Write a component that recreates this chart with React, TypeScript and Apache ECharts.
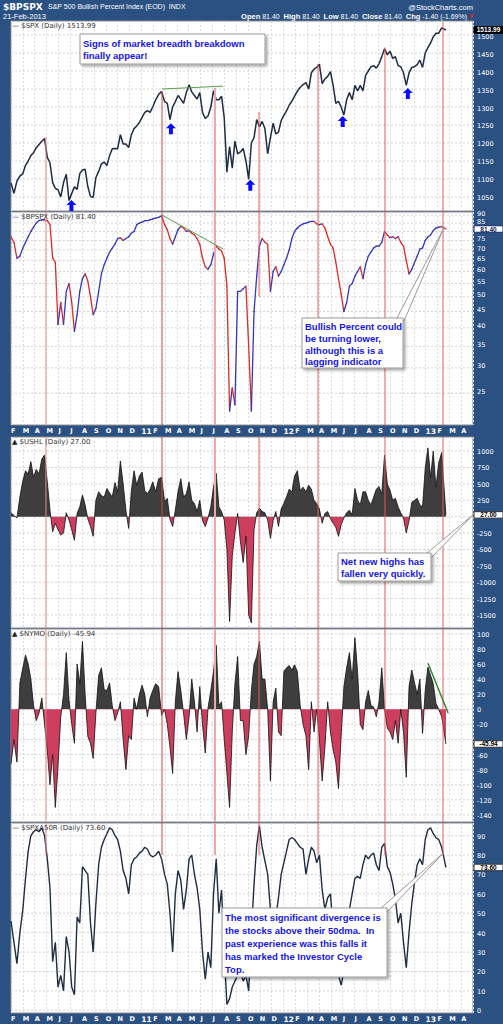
import React, { useEffect, useRef } from "react";
import * as echarts from "echarts";

// ---------- axis / categories ----------
const LAST_DAY = 1116; // days from 1-Feb-2010 to 21-Feb-2013
const monthLabels = [
  "F", "M", "A", "M", "J", "J", "A", "S", "O", "N", "D",
  "11", "F", "M", "A", "M", "J", "J", "A", "S", "O", "N", "D",
  "12", "F", "M", "A", "M", "J", "J", "A", "S", "O", "N", "D",
  "13", "F", "M", "A",
];

// ---------- series values (weekly samples) ----------
const spx = [
  1089, 1060, 1094, 1108, 1115, 1138, 1150, 1165, 1173, 1187,
  1196, 1205, 1212, 1160, 1145, 1090, 1074, 1070, 1050, 1090,
  1113, 1040, 1060, 1078, 1071, 1115, 1125, 1127, 1079, 1051,
  1049, 1104, 1121, 1142, 1147, 1137, 1165, 1184, 1185, 1184,
  1223, 1197, 1197, 1187, 1223, 1240, 1247, 1257, 1271, 1285,
  1290, 1285, 1300, 1320, 1335, 1343, 1315, 1310, 1265, 1300,
  1315, 1332, 1322, 1310, 1340, 1362, 1342, 1332, 1322, 1340,
  1285, 1268, 1275, 1300, 1345, 1320, 1320, 1330, 1270, 1119,
  1190, 1130, 1205, 1170, 1175, 1185, 1150, 1099, 1200, 1215,
  1265, 1245, 1260, 1240, 1170, 1215, 1255, 1225, 1230, 1262,
  1277, 1289, 1305, 1316, 1330, 1344, 1355, 1362, 1368, 1350,
  1395, 1405, 1410, 1419, 1365, 1378, 1385, 1398, 1360, 1310,
  1316, 1300, 1278, 1320, 1340, 1320, 1360, 1345, 1360, 1345,
  1388, 1400, 1412, 1415, 1408, 1420, 1440, 1462, 1445, 1455,
  1435, 1440, 1415, 1412, 1395, 1360, 1395, 1410, 1412, 1418,
  1430, 1410, 1450, 1465, 1478, 1495, 1505, 1505, 1520, 1514,
];

const bpspx = [
  77, 74, 66, 67, 71, 74, 77, 80, 82.5, 85,
  86.5, 87, 87, 86.5, 84, 66, 64, 41, 48, 41,
  52, 55, 48, 39, 44, 52, 57, 59, 56, 50,
  44, 46, 52, 59, 63, 66, 69, 71, 73, 76,
  76.5, 75, 76, 77, 79, 80, 84, 85, 85.5, 86.5,
  86.5, 87, 87.5, 88, 88.5, 89.5, 84, 81, 76, 73,
  77, 81, 83, 82, 80, 80.5, 79, 78, 76, 73,
  66, 62, 61, 63, 68, 72, 70.5, 69.5, 66, 54,
  22, 26, 23, 52, 52, 53, 54, 35, 22, 45,
  58, 72, 76, 74, 73, 52, 60, 62, 58, 60,
  63, 66, 70, 76, 80, 82, 83.5, 84.5, 85, 85.5,
  86, 86, 84.5, 84, 84.5, 82, 77, 73, 71, 64,
  57, 51, 45, 48, 54, 55, 58, 60, 62, 57,
  63, 67, 69, 71, 72, 72, 74, 80, 78, 76.5,
  77, 76, 77, 74, 72, 65, 59, 61, 64, 67,
  70.5, 71, 75, 77, 78, 80.5, 82, 82.5, 82.8, 81.4,
];

const ushl = [
  60, 20, -20, 300, 550, 700, 650, 840, 600, 720,
  650, 880, 940, 530, 100, -230, -100, -200, -280, -250,
  60, -50, -200, -360, 50, 150, 330, 180, -30, -150,
  -300, 250, 380, 320, 300, 430, 360, 300, 520, 380,
  850, 500, 100, -180, 400, 700, 480, 620, 680, 400,
  350, 420, 530, 380, 580, 600, 230, 280, -40, -150,
  100, 380, 580, 300, 350, 530, 250, 200, 80, 250,
  -60, -150, -20, 150, 450, 660, 150, 80, -50, -500,
  -1600, -600, -250, 50, -380, -700, -300, -1500, -1620, -200,
  60, 130, 80, 60, -50, -330, -60, 80, -150, 120,
  200, 300, 420, 380, 620, 700, 400, 450, 380, 480,
  420, 250, 200, 120, -100, 50, 80, -30, -100, -160,
  -300, -120, -20, 60, 100, 30, 430, 250, 180, 380,
  380, 250, 180, 300, 420, 460, 350, 940, 500, 400,
  250, 280, 150, 60, -20, -250, -60, 220, 250, 280,
  180, 150, 740, 1050, 600, 1000, 450, 820, 980, 27,
];

const nymo = [
  -72, -40, -70, 35, 55, 72, 60, 40, 5, -15,
  -5, 15, -20, -55, -100, -60, -130, -75, -10, 20,
  75, 12, -20, -45, 60, 34, 90, 20, -36, -45,
  -65, -5, 45, 55, 26, 25, 35, 5, -15, -5,
  10, -40, -80, -35, -40, 15, 0, 20, 32, 20,
  -10, 15, 25, 34, 30, -8, 0, -20, -50, -85,
  10, 50, 25, -5, -40, -10, 40, 10, -30, 30,
  -20, -58, 2, 25, 50, 85, 5, 10, -40, -85,
  -130, -30, 34, 70, -15, -15, -60, -35, 25, 60,
  70, 90, 40, 40, 0, -95, 10, 28, -30, -35,
  50, 55, 58, 52, 59, 50, 5, -20, -35, -80,
  10, -30, 0, -40, -95, -50, 10, -30, -54, -70,
  -105, -35, 30, 55, 75, 40, 95, 50, -20, -27,
  10, 25, 5, 3, -10, 10, 55, 0, -25, -30,
  -40, -15, -45, 0, -30, -90, 30, 52, 35, 20,
  40, -32, 25, 56, 45, 34, 8, 0, -10, -45.94,
];

const spxa50r = [
  46, 35, 24, 40, 52, 68, 82, 90, 92, 93,
  92, 94, 90, 78, 63, 25, 35, 12, 18, 10,
  38, 30, 12, 8, 48, 45, 74, 72, 70, 45,
  30, 55, 75, 84, 88, 91, 94, 93, 90, 88,
  82, 72, 68, 60, 75, 78, 79, 81, 82, 84,
  83, 80, 79, 80, 82, 78, 70, 65, 50, 30,
  60, 72, 67, 52, 62, 78, 80, 70, 63, 52,
  30, 16, 30, 22, 60, 78, 50, 62, 30, 3,
  6, 12, 15, 18, 20, 15, 18, 10, 40, 65,
  85, 95, 84, 77, 70, 52, 45, 48, 58, 70,
  76, 82, 88, 89, 88, 86, 84, 83, 70, 78,
  84, 82, 76, 80, 62, 52, 58, 60, 42, 34,
  18, 13, 20, 40, 52, 60, 68, 69, 68, 75,
  80, 78, 80, 81, 75, 72, 84, 86, 74, 71,
  65, 57, 45, 50, 35, 22, 40, 55, 66, 75,
  78, 75, 88, 93, 94, 91, 89, 88, 84, 73.6,
];

// ---------- tick labels ----------
const spxTicks = [1050, 1100, 1150, 1200, 1250, 1300, 1350, 1400, 1450, 1500];
const bpTicks = [25, 30, 35, 40, 45, 50, 55, 60, 65, 70, 75, 80, 85, 90];
const ushlTicks = [1000, 750, 500, 250, 0, -250, -500, -750, -1000, -1250, -1500];
const nymoTicks = [100, 80, 60, 40, 20, 0, -20, -40, -60, -80, -100, -120, -140];
const a50Ticks = [90, 80, 70, 60, 50, 40, 30, 20, 10, 0];
const hiddenTicks = [[], [80], [0], [-40], []];

// ---------- annotations (month index, value) ----------
const redLineX = [2.95, 12.75, 17.22, 20.94, 25.92, 31.57, 36.47];
const redLineSpxTop = [1217, 1343, 1353, 1286, 1419, 1466, 1536];
const redLineColor = ["#e78a8a", "#c44848", "#f0a6ae", "#e05c5c", "#e05c5c", "#e05c5c", "#e05c5c"];
const redLineWidth = [1, 1, 2, 1, 1, 1, 1];
const arrowX = [5.1, 13.5, 20.2, 28.0, 33.5];
const arrowY = [1025, 1238, 1081, 1258, 1336];
const lastValues = [1513.99, 81.4, 27.0, -45.94, 73.6];
const lastLabels = ["1513.99", "81.40", "27.00", "-45.94", "73.60"];
const trendSpx = [[12.75, 1350], [17.9, 1358]];
const trendBp = [[12.75, 90], [17.9, 70.5]];
const trendNymo = [[35.2, 61], [36.9, -5]];
const calloutPanel = [1, 2, 4];
const calloutTipX = [36.55, 39, 36.5];
const calloutTipY = [82.2, 27, 81];

// ---------- layout ----------
const BG = "#2b5183";
const panelTop = [21, 212, 437, 629, 823];
const panelHeight = [190, 213, 191, 193, 190];
const yMin = [1011, 19.9, -1697, -149.3, -1.4];
const yMax = [1539, 92, 1215, 106.4, 96.5];
const labelShift = [1.5, -1.5, 1, 1, 1];
const calloutBase = [[397, 318, 404, 321], [427, 553, 432, 557], [381, 908, 388, 911]];

function monthIndex(day: number) {
  const d = new Date(2010, 1, 1 + day);
  const dim = new Date(d.getFullYear(), d.getMonth() + 1, 0).getDate();
  return (d.getFullYear() - 2010) * 12 + d.getMonth() - 1 + (d.getDate() - 1) / dim;
}
const xs = spx.map((_, k) => monthIndex(k === spx.length - 1 ? LAST_DAY : k * 7));
const pairs = (arr: number[]) => arr.map((v, i) => [xs[i], v]);

function buildOption() {
  const grids = panelTop.map((t, i) => ({
    left: 11, right: 30, top: t, height: panelHeight[i], show: true,
    backgroundColor: "#ffffff", borderColor: "#8c8c8c", borderWidth: 1,
  }));

  const xAxes = grids.map((_, i) => ({
    type: "value", gridIndex: i, min: 0, max: 39, interval: 1,
    axisLine: { show: false }, axisTick: { show: false },
    splitLine: { show: true, lineStyle: { color: "#dadada", type: [2, 2], width: 1 } },
    axisLabel: {
      show: i === 1 || i === 4, align: "left", margin: 2, showMaxLabel: false,
      color: "#ffffff", fontSize: 6.5, fontWeight: "bold", fontFamily: "DejaVu Sans",
      formatter: (v: number) => {
        const s = monthLabels[Math.round(v)];
        if (s === undefined) return "";
        return /\d/.test(s) ? `{y|${s}}` : s;
      },
      rich: { y: { fontSize: 7.5, fontWeight: "bold", color: "#ffffff", fontFamily: "DejaVu Sans" } },
    },
  }));

  const yAxes = grids.map((_, i) => ({
    type: i === 1 ? "log" : "value", logBase: 10, gridIndex: i, position: "right",
    min: yMin[i], max: yMax[i],
    axisLine: { show: false }, axisTick: { show: false },
    splitLine: { show: false }, axisLabel: { show: false },
  }));

  // horizontal grid lines + right-hand tick labels, placed through each panel's y scale
  const allTicks = [spxTicks, bpTicks, ushlTicks, nymoTicks, a50Ticks];
  const gridSeries = allTicks.map((ticks, i) => ({
    type: "custom", xAxisIndex: i, yAxisIndex: i, silent: true, z: 1, clip: false,
    encode: { x: 0, y: 1 },
    data: ticks.map((v) => [0, v]),
    renderItem: (_p: any, api: any) => {
      const v = api.value(1);
      const a = api.coord([0, v]);
      const b = api.coord([39, v]);
      const hide = hiddenTicks[i].includes(v);
      return {
        type: "group",
        children: [
          {
            type: "line", shape: { x1: a[0], y1: a[1], x2: b[0], y2: b[1] },
            style: { stroke: "#d4d4d4", lineWidth: 1, lineDash: [2, 2] },
          },
          {
            type: "text", x: b[0] + 4, y: b[1] + labelShift[i],
            style: {
              text: hide ? "" : String(v), fill: "#ffffff", fontSize: 6.5, fontFamily: "DejaVu Sans",
              align: "left", verticalAlign: "middle", textAlign: "left", textVerticalAlign: "middle",
            },
          },
        ],
      };
    },
  }));

  // red vertical marker lines
  const redSeries = [0, 1, 2, 3, 4].map((p) => ({
    type: "custom", xAxisIndex: p, yAxisIndex: p, silent: true, z: 4, clip: false,
    encode: { x: 0, y: [1, 2] },
    data: redLineX.map((m, i) => {
      let top = yMax[p];
      let bottom = yMin[p];
      if (p === 0) top = redLineSpxTop[i];
      if (p === 1 && i === 3) bottom = 50;
      if (p === 4) bottom = 80;
      return [m, top, bottom, i];
    }),
    renderItem: (_p: any, api: any) => {
      const m = api.value(0);
      const a = api.coord([m, api.value(1)]);
      const b = api.coord([m, api.value(2)]);
      const i = api.value(3);
      return {
        type: "line", shape: { x1: a[0], y1: a[1], x2: b[0], y2: b[1] },
        style: { stroke: redLineColor[i], lineWidth: redLineWidth[i] },
      };
    },
  }));

  // last-value tags on the right axis
  const tagStyles = [
    { bg: "#000000", fg: "#ffffff", border: "#000000" },
    { bg: "#ffffff", fg: "#10205a", border: "#1a2a6a" },
    { bg: "#ffffff", fg: "#000000", border: "#333333" },
    { bg: "#ffffff", fg: "#000000", border: "#333333" },
    { bg: "#ffffff", fg: "#000000", border: "#333333" },
  ];
  const tagSeries = [0, 1, 2, 3, 4].map((p) => ({
    type: "custom", xAxisIndex: p, yAxisIndex: p, silent: true, z: 10, clip: false,
    encode: { x: 0, y: 1 },
    data: [[39, lastValues[p]]],
    renderItem: (_p: any, api: any) => {
      const c = api.coord([api.value(0), api.value(1)]);
      const s = tagStyles[p];
      return {
        type: "group",
        children: [
          {
            type: "rect", shape: { x: c[0] + 1, y: c[1] - 3.25, width: 29, height: 6.5 },
            style: { fill: s.bg, stroke: s.border, lineWidth: 1 },
          },
          {
            type: "text", x: c[0] + 15.5, y: c[1],
            style: {
              text: lastLabels[p], fill: s.fg, fontSize: 6.5, fontWeight: "bold", fontFamily: "Liberation Sans",
              align: "center", verticalAlign: "middle", textAlign: "center", textVerticalAlign: "middle",
            },
          },
        ],
      };
    },
  }));

  // blue up-arrows in the SPX panel
  const arrowSeries = {
    type: "custom", xAxisIndex: 0, yAxisIndex: 0, silent: true, z: 6, clip: false,
    encode: { x: 0, y: 1 },
    data: arrowX.map((x, i) => [x, arrowY[i]]),
    renderItem: (_p: any, api: any) => {
      const c = api.coord([api.value(0), api.value(1)]);
      const x = c[0], y = c[1];
      return {
        type: "polygon",
        shape: {
          points: [
            [x, y - 6], [x + 5, y - 1], [x + 2, y - 1], [x + 2, y + 5],
            [x - 2, y + 5], [x - 2, y - 1], [x - 5, y - 1],
          ],
        },
        style: { fill: "#0a0aff" },
      };
    },
  };

  // BPSPX: blue when rising, red when falling
  const bpSeries = {
    type: "custom", xAxisIndex: 1, yAxisIndex: 1, silent: true, z: 3, clip: true,
    encode: { x: [0, 2], y: [1, 3] },
    data: bpspx.slice(1).map((v, i) => [xs[i], bpspx[i], xs[i + 1], v]),
    renderItem: (_p: any, api: any) => {
      const a = api.coord([api.value(0), api.value(1)]);
      const b = api.coord([api.value(2), api.value(3)]);
      const up = api.value(3) >= api.value(1);
      return {
        type: "line", shape: { x1: a[0], y1: a[1], x2: b[0], y2: b[1] },
        style: { stroke: up ? "#3535c0" : "#dd2a2a", lineWidth: 1.3, lineCap: "round" },
      };
    },
  };

  const trend = (p: number, data: number[][], color: string, w: number) => ({
    type: "line", xAxisIndex: p, yAxisIndex: p, data, showSymbol: false, silent: true, z: 5,
    lineStyle: { color, width: w },
  });

  const mainSeries: any[] = [
    {
      type: "line", xAxisIndex: 0, yAxisIndex: 0, data: pairs(spx), showSymbol: false, silent: true, z: 3,
      lineStyle: { color: "#1f2c42", width: 1.5 },
    },
    {
      type: "line", xAxisIndex: 2, yAxisIndex: 2, data: pairs(ushl), showSymbol: false, silent: true, z: 2,
      lineStyle: { width: 0 }, areaStyle: { opacity: 1 },
    },
    {
      type: "line", xAxisIndex: 2, yAxisIndex: 2, data: pairs(ushl), showSymbol: false, silent: true, z: 3,
      lineStyle: { color: "#111111", width: 0.8 },
    },
    {
      type: "line", xAxisIndex: 3, yAxisIndex: 3, data: pairs(nymo), showSymbol: false, silent: true, z: 2,
      lineStyle: { width: 0 }, areaStyle: { opacity: 1 },
    },
    {
      type: "line", xAxisIndex: 3, yAxisIndex: 3, data: pairs(nymo), showSymbol: false, silent: true, z: 3,
      lineStyle: { color: "#111111", width: 0.8 },
    },
    {
      type: "line", xAxisIndex: 4, yAxisIndex: 4, data: pairs(spxa50r), showSymbol: false, silent: true, z: 3,
      lineStyle: { color: "#1f2c42", width: 1.4 },
    },
  ];

  const areaPieces = [
    { gte: -5000, lte: 0, color: "#cc3d5e" },
    { gt: 0, lte: 5000, color: "#3e3e3e" },
  ];

  return {
    animation: false,
    backgroundColor: BG,
    textStyle: { fontFamily: "DejaVu Sans" },
    grid: grids,
    xAxis: xAxes,
    yAxis: yAxes,
    visualMap: [
      { type: "piecewise", show: false, seriesIndex: 1, dimension: 1, pieces: areaPieces, outOfRange: { color: "#3e3e3e" } },
      { type: "piecewise", show: false, seriesIndex: 3, dimension: 1, pieces: areaPieces, outOfRange: { color: "#3e3e3e" } },
    ],
    series: [
      ...mainSeries,
      bpSeries,
      ...gridSeries,
      ...redSeries,
      trend(0, trendSpx, "#5a9e4a", 1),
      trend(1, trendBp, "#5a9e4a", 1),
      trend(3, trendNymo, "#2e8b2e", 1.5),
      arrowSeries,
      ...tagSeries,
    ],
  };
}

function buildGraphic(tips: number[][]) {
  const txt = (x: number, y: number, text: string, style: any = {}) => ({
    type: "text", x, y, z: 100, silent: true,
    style: { text, fill: "#ffffff", fontSize: 7, fontFamily: "Liberation Sans", align: "left", verticalAlign: "top", ...style },
  });

  const panelLabel = (i: number, text: string, dashColor: string, icon: string) => ({
    type: "text", x: 12, y: panelTop[i] + 1, z: 100, silent: true,
    style: {
      text: `{d|${icon}} ${text}`, fill: "#333333", fontSize: 7, fontFamily: "DejaVu Sans",
      align: "left", verticalAlign: "top",
      rich: { d: { fill: dashColor, fontSize: 7, fontFamily: "DejaVu Sans" } },
    },
  });

  const box = (x: number, y: number, w: number, h: number, text: string, lh: number) => ({
    type: "group", x, y, z: 100, silent: true,
    children: [
      {
        type: "rect", z: 100, shape: { x: 0, y: 0, width: w, height: h },
        style: {
          fill: "#ffffff", stroke: "#9a9a9a", lineWidth: 1,
          shadowBlur: 3, shadowOffsetX: 2, shadowOffsetY: 2, shadowColor: "rgba(0,0,0,0.35)",
        },
      },
      {
        type: "text", z: 101, x: 3, y: 3,
        style: {
          text, fill: "#1515e6", fontSize: 9.5, fontWeight: "bold", fontFamily: "Liberation Sans",
          lineHeight: lh, align: "left", verticalAlign: "top",
        },
      },
    ],
  });

  const callouts = tips.map((tip, i) => {
    const b = calloutBase[i];
    return {
      type: "polygon", z: 99, silent: true,
      shape: { points: [[b[0], b[1]], tip, [b[2], b[3]]] },
      style: { fill: "#ffffff", stroke: "#9a9a9a", lineWidth: 1 },
    };
  });

  return [
    ...callouts,
    txt(3, 2, "$BPSPX", { fontSize: 9, fontWeight: "bold", fontFamily: "DejaVu Sans" }),
    txt(48, 3, "S&P 500 Bullish Percent Index (EOD)  INDX", { fontSize: 7 }),
    txt(3, 12, "21-Feb-2013", { fontSize: 7.5 }),
    txt(473, 3, "@StockCharts.com", { align: "right", fontSize: 7.5 }),
    txt(467, 12, "{b|Open} 81.40  {b|High} 81.40  {b|Low} 81.40  {b|Close} 81.40  {b|Chg} -1.40 (-1.69%)", {
      align: "right", fontSize: 7,
      rich: { b: { fontWeight: "bold", fontSize: 7.5, fill: "#ffffff", fontFamily: "Liberation Sans" } },
    }),
    txt(469, 13, "▼", { fill: "#e02020", fontSize: 5.5, fontFamily: "DejaVu Sans" }),
    panelLabel(0, "$SPX (Daily) 1513.99", "#333333", "—"),
    panelLabel(1, "$BPSPX (Daily) 81.40", "#3535c0", "—"),
    panelLabel(2, "$USHL (Daily) 27.00", "#222222", "▲"),
    panelLabel(3, "$NYMO (Daily) -45.94", "#222222", "▲"),
    panelLabel(4, "$SPXA50R (Daily) 73.60", "#333333", "—"),
    box(80, 34, 185, 30, "Signs of market breadth breakdown\nfinally appear!", 12),
    box(302, 318, 101, 50, "Bullish Percent could\nbe turning lower,\nalthough this is a\nlagging indicator", 11.7),
    box(338, 553, 93, 28, "Net new highs has\nfallen very quickly.", 11.7),
    box(222, 908, 165, 69, "The most significant divergence is\nthe stocks above their 50dma.  In\npast experience was this falls it\nhas marked the Investor Cycle\nTop.", 12.9),
  ];
}

export default function App() {
  const ref = useRef<HTMLDivElement>(null);
  useEffect(() => {
    document.body.style.margin = "0";
    const chart = echarts.init(ref.current as HTMLDivElement, null, { renderer: "svg" });
    chart.setOption(buildOption() as any);
    const tips = calloutPanel.map((p, i) => {
      const pt = chart.convertToPixel({ gridIndex: p } as any, [calloutTipX[i], calloutTipY[i]]) as any;
      return Array.isArray(pt) ? pt : [0, 0];
    });
    chart.setOption({ graphic: buildGraphic(tips) } as any);
    return () => chart.dispose();
  }, []);
  return <div ref={ref} style={{ width: 503, height: 1024 }} />;
}
